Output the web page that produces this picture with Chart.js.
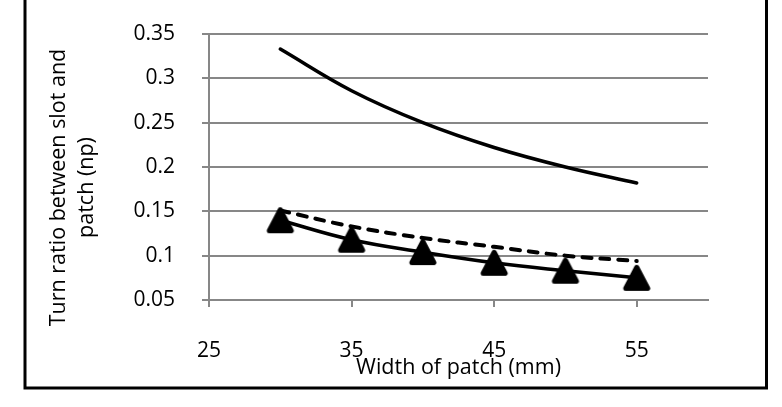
<!DOCTYPE html>
<html>
<head>
<meta charset="utf-8">
<script src="https://cdn.jsdelivr.net/npm/chart.js@4"></script>
<style>
  html, body { margin: 0; padding: 0; background: #fff; }
</style>
</head>
<body>
<canvas id="chart" width="782" height="407"></canvas>
<script>
// patch width (mm)
var widths = [30, 35, 40, 45, 50, 55];
// turn ratio between slot and patch
var npUpper = [0.333, 0.286, 0.25, 0.222, 0.2, 0.182];
var npDashed = [0.151, 0.133, 0.12, 0.11, 0.1, 0.094];
var npMarked = [0.14, 0.118, 0.104, 0.092, 0.083, 0.075];

var xTicks = [25, 35, 45, 55];
var yTicks = [0.05, 0.1, 0.15, 0.2, 0.25, 0.3, 0.35];

var xTitle = 'Width of patch (mm)';
var yTitle = ['Turn ratio between slot and', 'patch (np)'];

var fontFam = '"Open Sans", sans-serif';
var gridGrey = '#878787';

function toPoints(ys) {
  return widths.map((w, i) => ({ x: w, y: ys[i] }));
}

// rounded black triangle, like the excel marker
function triangleMarker() {
  var c = document.createElement('canvas');
  c.width = 30; c.height = 30;
  var g = c.getContext('2d');
  g.fillStyle = '#000';
  g.strokeStyle = '#000';
  g.lineWidth = 5;
  g.lineJoin = 'round';
  g.beginPath();
  g.moveTo(15, 4.5);
  g.lineTo(26, 25.5);
  g.lineTo(4, 25.5);
  g.closePath();
  g.fill();
  g.stroke();
  return c;
}

// y title sits lower than the axis centre, so draw it by hand
const yTitlePlugin = {
  id: 'yTitle',
  afterDraw(chart) {
    const ctx = chart.ctx;
    ctx.save();
    ctx.fillStyle = '#000';
    ctx.font = '21.5px ' + fontFam;
    ctx.textAlign = 'center';
    ctx.textBaseline = 'alphabetic';
    ctx.translate(65, 187.5);
    ctx.rotate(-Math.PI / 2);
    ctx.fillText(yTitle[0], 0, 0);
    ctx.fillText(yTitle[1], 0, 28);
    ctx.restore();
  }
};

// black frame round the whole chart
const framePlugin = {
  id: 'frame',
  beforeDraw(chart) {
    const ctx = chart.ctx;
    ctx.save();
    ctx.fillStyle = '#fff';
    ctx.fillRect(0, 0, chart.width, chart.height);
    ctx.restore();
  },
  afterDraw(chart) {
    const ctx = chart.ctx;
    ctx.save();
    ctx.strokeStyle = '#000';
    ctx.lineWidth = 3;
    ctx.strokeRect(25, -5, 741.5, 393);
    ctx.restore();
  }
};

new Chart(document.getElementById('chart'), {
  type: 'line',
  data: {
    datasets: [
      {
        data: toPoints(npUpper),
        borderColor: '#000',
        borderWidth: 3.5,
        borderCapStyle: 'round',
        tension: 0.4,
        pointRadius: 0
      },
      {
        data: toPoints(npDashed),
        borderColor: '#000',
        borderWidth: 4,
        borderDash: [9, 9],
        borderCapStyle: 'round',
        tension: 0.4,
        pointRadius: 0
      },
      {
        data: toPoints(npMarked),
        borderColor: '#000',
        borderWidth: 3.5,
        borderCapStyle: 'round',
        tension: 0.4,
        pointStyle: triangleMarker(),
        pointRadius: 13,
        backgroundColor: '#000'
      }
    ]
  },
  options: {
    responsive: false,
    animation: false,
    layout: { padding: { left: 0, right: 74, top: 34, bottom: 19 } },
    plugins: {
      legend: { display: false },
      tooltip: { enabled: false }
    },
    scales: {
      x: {
        type: 'linear',
        min: 25,
        max: 60,
        afterBuildTicks: s => { s.ticks = xTicks.map(v => ({ value: v })); },
        afterFit: s => { s.height = 88; s.paddingLeft = 0; s.paddingRight = 0; },
        grid: { drawOnChartArea: false, color: gridGrey, lineWidth: 2, tickLength: 7 },
        border: { color: gridGrey, width: 2 },
        ticks: { color: '#000', font: { family: fontFam, size: 21 }, padding: 31, maxRotation: 0 },
        title: {
          display: true,
          text: xTitle,
          color: '#000',
          font: { family: fontFam, size: 21.5 },
          padding: { top: 0, bottom: 7 }
        }
      },
      y: {
        min: 0.05,
        max: 0.35,
        afterBuildTicks: s => { s.ticks = yTicks.map(v => ({ value: v })); },
        afterFit: s => { s.width = 209; s.paddingTop = 0; s.paddingBottom = 0; },
        grid: { color: gridGrey, lineWidth: 2, tickLength: 7 },
        border: { color: gridGrey, width: 2 },
        ticks: {
          color: '#000',
          font: { family: fontFam, size: 21 },
          padding: 27,
          callback: v => String(v)
        }
      }
    }
  },
  plugins: [framePlugin, yTitlePlugin]
});
</script>
</body>
</html>
